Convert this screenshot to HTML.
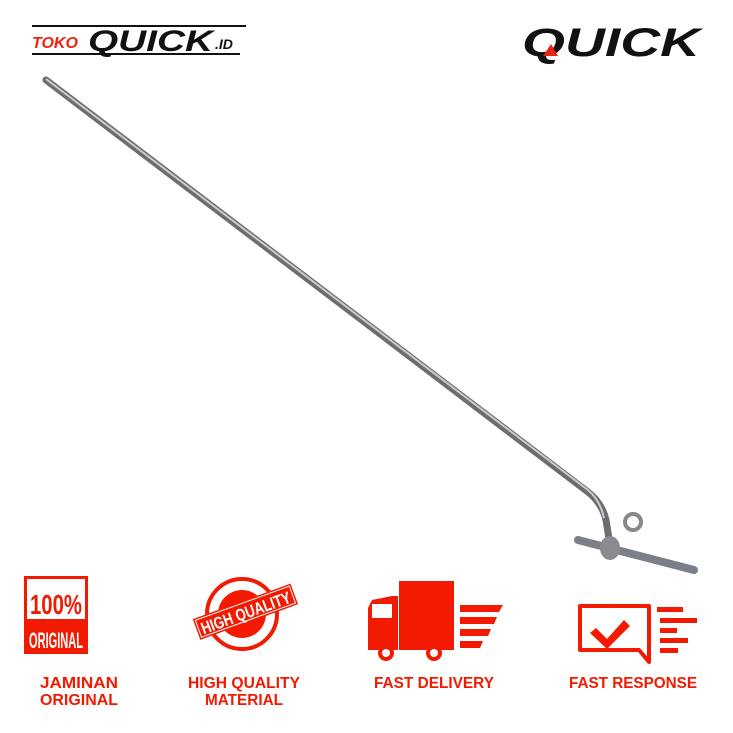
<!DOCTYPE html><html><head><style>body{margin:0;background:#fff}svg{display:block}</style></head><body>
<svg width="733" height="733" viewBox="0 0 733 733" xmlns="http://www.w3.org/2000/svg" font-family="Liberation Sans, sans-serif">
<rect width="733" height="733" fill="#fff"/>
<!-- logos -->
<line x1="32" y1="26" x2="246" y2="26" stroke="#111" stroke-width="2"/>
<line x1="32" y1="54" x2="240" y2="54" stroke="#111" stroke-width="2"/>
<text x="32" y="48" font-size="16" font-weight="bold" font-style="italic" fill="#e21">TOKO</text>
<text x="88" y="51" font-size="30" font-weight="bold" font-style="italic" fill="#111" textLength="125" lengthAdjust="spacingAndGlyphs">QUICK</text>
<text x="215" y="49" font-size="14" font-weight="bold" font-style="italic" fill="#111">.ID</text>
<text x="522" y="56" font-size="40" font-weight="bold" font-style="italic" fill="#111" textLength="178" lengthAdjust="spacingAndGlyphs">QUICK</text>
<polygon points="543,56 551,44 558,56" fill="#e21"/>
<!-- rod -->
<path d="M46,80 L588,492 Q602,503 606,520 L610,545" stroke="#6c6c72" stroke-width="7" fill="none" stroke-linecap="round"/>
<path d="M46,79 L588,490 Q600,500 604,518" stroke="#ccc" stroke-width="2" fill="none"/>
<path d="M578,540 L694,570" stroke="#7a7f88" stroke-width="8" stroke-linecap="round"/>
<ellipse cx="610" cy="548" rx="10" ry="12" fill="#8a8a90"/>
<circle cx="633" cy="522" r="8" fill="none" stroke="#888" stroke-width="4"/>
<!-- 100% original -->
<rect x="24" y="576" width="64" height="78" fill="#f21a00"/>
<rect x="27" y="579" width="58" height="40" fill="#fff"/>
<text x="56" y="614" font-size="28" font-weight="bold" fill="#f21a00" text-anchor="middle" textLength="52" lengthAdjust="spacingAndGlyphs">100%</text>
<text x="56" y="648" font-size="22" font-weight="bold" fill="#fff" text-anchor="middle" textLength="54" lengthAdjust="spacingAndGlyphs">ORIGINAL</text>
<!-- stamp -->
<circle cx="242" cy="614" r="35" fill="none" stroke="#f21a00" stroke-width="4"/>
<circle cx="242" cy="614" r="24" fill="#f21a00"/>
<g transform="rotate(-20 242 614)"><rect x="194" y="602" width="104" height="22" fill="#f21a00"/><rect x="196" y="604" width="100" height="18" fill="none" stroke="#fff" stroke-width="1"/>
<text x="246" y="620" font-size="17" font-weight="bold" fill="#fff" text-anchor="middle" textLength="94" lengthAdjust="spacingAndGlyphs">HIGH QUALITY</text></g>
<!-- truck -->
<path d="M368,650 L368,608 L372,600 L392,596 L398,596 L398,650 Z" fill="#f21a00"/>
<rect x="372" y="604" width="20" height="14" fill="#fff"/>
<rect x="399" y="581" width="55" height="69" fill="#f21a00"/>
<circle cx="386" cy="653" r="8" fill="#f21a00"/><circle cx="386" cy="653" r="4" fill="#fff"/>
<circle cx="434" cy="653" r="8" fill="#f21a00"/><circle cx="434" cy="653" r="4" fill="#fff"/>
<polygon points="460,605 503,605 499,612 460,612" fill="#f21a00"/>
<polygon points="460,617 497,617 494,624 460,624" fill="#f21a00"/>
<polygon points="460,629 491,629 488,636 460,636" fill="#f21a00"/>
<polygon points="460,641 483,641 480,648 460,648" fill="#f21a00"/>
<!-- speech -->
<path d="M580,606 L649,606 L649,662 L639,650 L580,650 Z" fill="none" stroke="#f21a00" stroke-width="4" stroke-linejoin="round"/>
<path d="M596,628 L607,639 L624,620 L630,626 L607,649 L590,633 Z" fill="#f21a00"/>
<g fill="#f21a00"><rect x="657" y="607" width="26" height="5"/><rect x="660" y="618" width="37" height="5"/><rect x="660" y="628" width="17" height="5"/><rect x="660" y="638" width="28" height="5"/><rect x="660" y="648" width="18" height="5"/></g>
<!-- labels -->
<g font-size="16" font-weight="bold" fill="#f21a00" text-anchor="middle">
<text x="79" y="688" textLength="78" lengthAdjust="spacingAndGlyphs">JAMINAN</text><text x="79" y="705" textLength="78" lengthAdjust="spacingAndGlyphs">ORIGINAL</text>
<text x="244" y="688" textLength="112" lengthAdjust="spacingAndGlyphs">HIGH QUALITY</text><text x="244" y="705" textLength="78" lengthAdjust="spacingAndGlyphs">MATERIAL</text>
<text x="434" y="688" textLength="120" lengthAdjust="spacingAndGlyphs">FAST DELIVERY</text>
<text x="633" y="688" textLength="128" lengthAdjust="spacingAndGlyphs">FAST RESPONSE</text>
</g>
</svg></body></html>
